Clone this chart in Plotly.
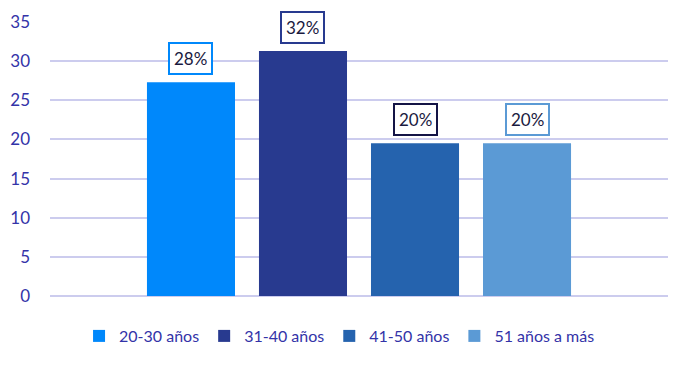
import plotly.graph_objects as go

categories = ["20-30 años", "31-40 años", "41-50 años", "51 años a más"]
values = [27.3, 31.3, 19.5, 19.5]
labels = ["28%", "32%", "20%", "20%"]
colors = ["#0088FB", "#283A8F", "#2563AE", "#5B9AD5"]
label_borders = ["#0088FB", "#283A8F", "#141446", "#5B9AD5"]

bargap = 0.275
n = len(categories)
group_w = 1 - bargap
slot = group_w / n

fig = go.Figure()
for name, v, c in zip(categories, values, colors):
    fig.add_trace(go.Bar(x=[""], y=[v], name=name, marker=dict(color=c, line=dict(width=0))))

for i, (v, lab, bc) in enumerate(zip(values, labels, label_borders)):
    xpos = -group_w / 2 + slot * (i + 0.5)
    fig.add_annotation(x=xpos, y=v, xref="x", yref="y", text=lab, showarrow=False,
                       yanchor="bottom", yshift=7, bordercolor=bc, borderwidth=2,
                       borderpad=4, bgcolor="white",
                       font=dict(family="Lato", size=17, color="#1A1A40"))

fig.update_layout(
    width=691, height=368,
    barmode="group", bargap=bargap, bargroupgap=0.214,
    plot_bgcolor="white", paper_bgcolor="white",
    margin=dict(l=42, r=31, t=14, b=80, autoexpand=False),
    font=dict(family="Lato", size=16, color="#3333A8"),
    legend=dict(orientation="h", x=0.047, xanchor="left", y=-0.146, yanchor="middle",
                font=dict(size=16, color="#3333A8"), itemwidth=30),
    showlegend=True,
)
fig.update_xaxes(showticklabels=False, showgrid=False, zeroline=False, showline=False)
fig.update_yaxes(range=[0, 35], dtick=5, showgrid=True, gridcolor="#CCCCEE", gridwidth=2,
                 zeroline=True, zerolinecolor="#CCCCEE", zerolinewidth=2, automargin=False,
                 ticklabelstandoff=19, tickfont=dict(size=17, color="#3333A8"))

fig.write_html("out.html")
